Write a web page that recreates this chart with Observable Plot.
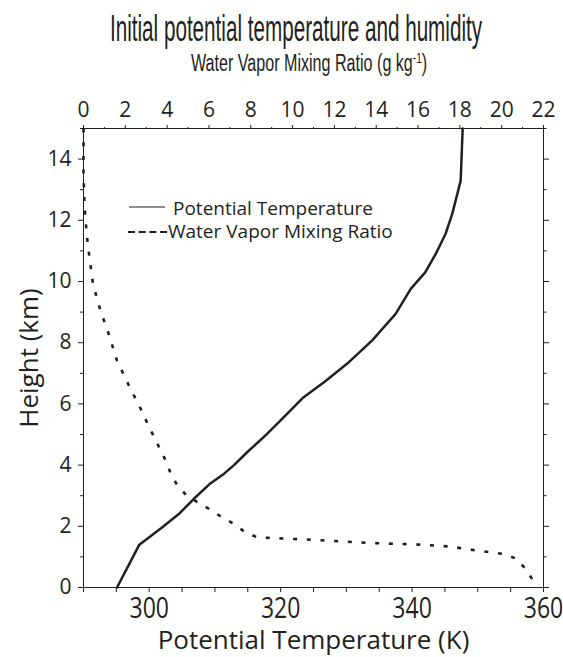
<!DOCTYPE html>
<html><head><meta charset="utf-8">
<script src="https://cdn.jsdelivr.net/npm/d3@7"></script>
<script src="https://cdn.jsdelivr.net/npm/@observablehq/plot@0.6"></script>
<style>
html,body{margin:0;padding:0;background:#fff;}
#wrap{position:relative;width:563px;height:657px;overflow:hidden;color:#231f20;}
#head{position:relative;height:88px;}
.ttl{position:absolute;white-space:nowrap;line-height:1;font-family:"Liberation Sans",Arial,sans-serif;color:#231f20;}
#t1{left:296px;top:11px;font-size:36px;transform:translateX(-50%) scaleX(0.574);}
#t2{left:309px;top:52px;font-size:23px;transform:translateX(-50%) scaleX(0.7);}
#t2 sup{font-size:0.62em;vertical-align:0.55em;line-height:0;}
</style></head>
<body>
<div id="wrap">
  <div id="head">
    <div id="t1" class="ttl">Initial potential temperature and humidity</div>
    <div id="t2" class="ttl">Water Vapor Mixing Ratio (g kg<sup>-1</sup>)</div>
  </div>
  <div id="chart"></div>
</div>
<script>
// Potential temperature profile (K) vs height (km)
const thetaHeight = [0, 1.4, 1.97, 2.4, 2.9, 3.4, 3.72, 4.0, 4.42, 4.97, 5.46, 6.22, 6.71, 7.31, 8.07, 8.94, 9.76, 10.3, 10.9, 11.56, 12.2, 12.87, 13.3, 15];
const thetaValue  = [295.1, 298.5, 302.0, 304.5, 306.8, 309.3, 311.4, 312.9, 314.9, 317.7, 320.0, 323.5, 326.6, 330.1, 333.9, 337.5, 339.8, 342.0, 343.6, 345.1, 346.1, 346.9, 347.4, 347.7];
// Water vapor mixing ratio (g/kg) vs height (km)
const mixHeight = [15, 13.5, 12.5, 12, 11.24, 10.5, 9.9, 9.05, 8.3, 7.42, 6.6, 6.17, 5.78, 5.37, 4.97, 4.55, 4.15, 3.73, 3.33, 3.0, 2.79, 2.57, 2.32, 2.08, 1.81, 1.64, 1.62, 1.56, 1.46, 1.4, 1.34, 1.21, 1.1, 0.94, 0.61, 0.23, 0];
const mixValue  = [0, 0, 0.05, 0.1, 0.2, 0.34, 0.46, 0.81, 1.2, 1.6, 2.17, 2.49, 2.78, 3.05, 3.34, 3.64, 3.93, 4.17, 4.49, 4.94, 5.45, 6.0, 6.57, 7.18, 7.73, 8.3, 8.93, 10.88, 13.52, 16.15, 17.51, 18.79, 20.07, 20.71, 21.14, 21.5, 21.6];
// Axis ticks
const thetaDomain = [290, 360];
const thetaLabelTicks = [300, 320, 340, 360];
const thetaAllTicks = d3.range(290, 361, 5);
const mixDomain = [0, 22];
const mixMajorTicks = d3.range(0, 23, 2);
const mixMinorTicks = d3.range(1, 22, 2);
const heightDomain = [0, 15];
const heightMajorTicks = d3.range(0, 15, 2);
const heightMinorTicks = d3.range(1, 16, 2);
const legendLabels = ["Potential Temperature", "Water Vapor Mixing Ratio"];

const ink = "#231f20";
// map the mixing ratio onto the shared horizontal scale (top axis)
const qToX = q => thetaDomain[0] + (q - mixDomain[0]) * (thetaDomain[1] - thetaDomain[0]) / (mixDomain[1] - mixDomain[0]);
const xToQ = x => mixDomain[0] + (x - thetaDomain[0]) * (mixDomain[1] - mixDomain[0]) / (thetaDomain[1] - thetaDomain[0]);

const thetaData = thetaValue.map((t, i) => ({theta: t, z: thetaHeight[i]}));
const mixData = mixValue.map((q, i) => ({q, z: mixHeight[i]}));

const chart = Plot.plot({
  width: 563, height: 569,
  marginTop: 40, marginBottom: 70, marginLeft: 83, marginRight: 20,
  style: {fontFamily: '"Open Sans", sans-serif', color: ink, background: "#fff", overflow: "visible"},
  x: {domain: thetaDomain},
  y: {domain: heightDomain},
  marks: [
    Plot.frame({stroke: ink, strokeWidth: 1}),
    // bottom axis
    Plot.axisX({anchor: "bottom", ticks: thetaAllTicks, tickSize: 5, tickPadding: 4, fontSize: 23,
      tickFormat: d => thetaLabelTicks.includes(d) ? String(d) : "", label: null}),
    // top axis (mixing ratio)
    Plot.axisX({anchor: "top", ticks: mixMajorTicks.map(qToX), tickSize: 4, tickPadding: 8, fontSize: 21,
      tickFormat: d => String(Math.round(xToQ(d))), label: null}),
    Plot.axisX({anchor: "top", ticks: mixMinorTicks.map(qToX), tickSize: 2, tickFormat: () => "", label: null}),
    // left axis
    Plot.axisY({anchor: "left", ticks: heightMajorTicks, tickSize: 5, tickPadding: 7, fontSize: 21, label: null}),
    Plot.axisY({anchor: "left", ticks: heightMinorTicks, tickSize: 3, tickFormat: () => "", label: null}),
    // right axis
    Plot.axisY({anchor: "right", ticks: heightMajorTicks, tickSize: 5, tickFormat: () => "", label: null}),
    Plot.axisY({anchor: "right", ticks: heightMinorTicks, tickSize: 2.5, tickFormat: () => "", label: null}),
    // axis titles
    Plot.text(["Height (km)"], {frameAnchor: "left", textAnchor: "middle", lineAnchor: "middle", dx: -54, rotate: -90, fontSize: 26, fill: ink}),
    Plot.text(["Potential Temperature (K)"], {frameAnchor: "bottom", textAnchor: "middle", lineAnchor: "middle", dy: 53, fontSize: 26, fill: ink}),
    // data
    Plot.line(mixData, {x: d => qToX(d.q), y: "z", stroke: ink, strokeWidth: 2.6, strokeLinecap: "butt", strokeDasharray: "4,9.7"}),
    Plot.line(thetaData, {x: "theta", y: "z", stroke: ink, strokeWidth: 2.5})
  ]
});
document.getElementById("chart").appendChild(chart);

// bottom tick labels are drawn taller in the reference
d3.select(chart).selectAll('g[aria-label="x-axis tick label"][font-size="23"] text')
  .attr("transform", function() { return (this.getAttribute("transform") || "") + " scale(1,1.3)"; });

// legend (inside plot area, upper left)
const svg = d3.select(chart);
const off = 88; // page offset of the svg
const lg = svg.append("g").attr("aria-label", "legend").attr("fill", ink)
  .attr("font-family", '"Open Sans", sans-serif').attr("font-size", 19).attr("text-anchor", "start");
lg.append("line").attr("x1", 129).attr("x2", 165).attr("y1", 207 - off).attr("y2", 207 - off)
  .attr("stroke", ink).attr("stroke-width", 1.1);
lg.append("text").attr("x", 173).attr("y", 215 - off).attr("text-anchor", "start").text(legendLabels[0]);
lg.append("line").attr("x1", 128).attr("x2", 168).attr("y1", 232 - off).attr("y2", 232 - off)
  .attr("stroke", ink).attr("stroke-width", 2.2).attr("stroke-dasharray", "7,3.7");
lg.append("text").attr("x", 168).attr("y", 238 - off).attr("text-anchor", "start").text(legendLabels[1]);
</script>
</body></html>
